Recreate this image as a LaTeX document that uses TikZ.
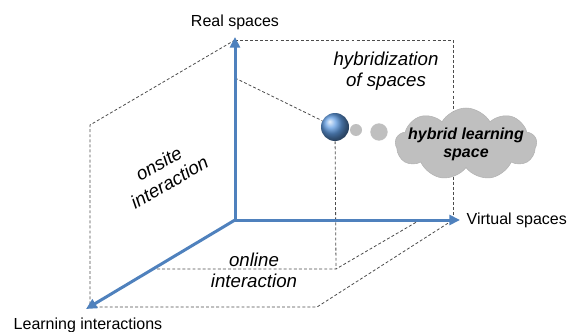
\documentclass[tikz,border=0pt]{standalone}
\usepackage{fontspec}
\setmainfont{Liberation Sans}
\usetikzlibrary{arrows.meta,shapes.symbols}
\definecolor{axisblue}{RGB}{79,129,189}
\definecolor{ballblue}{RGB}{96,156,226}
\definecolor{cloudgray}{RGB}{191,191,191}
\begin{document}
\begin{tikzpicture}[x=0.75pt,y=-0.75pt]
    \tikzstyle{axis}=[draw=axisblue,line width=2.25pt,-{Triangle[length=8pt,width=7.5pt]}]
    \tikzstyle{guide}=[draw=black!70,line width=0.6pt,dash pattern=on 2.2pt off 1.6pt]
    \tikzstyle{axislabel}=[font=\fontsize{12}{14}\selectfont]
    \tikzstyle{region}=[font=\fontsize{14}{16}\selectfont\itshape,align=center]
    \tikzstyle{dot}=[circle,fill=cloudgray,inner sep=0pt]
    \useasboundingbox (0,0) rectangle (568,332);
    \begin{scope}
        % axes
        \coordinate (o) at (235,220);
        \coordinate (real) at (235,37);
        \coordinate (virtual) at (460,220);
        \coordinate (learn) at (86,309);
        % box corners
        \coordinate (b1) at (235,40);
        \coordinate (b2) at (453,40);
        \coordinate (b3) at (453,220);
        \coordinate (b4) at (90,125);
        \coordinate (b5) at (90,307);
        \coordinate (b6) at (317,307);
        % projections of the point
        \coordinate (pr) at (235,78);
        \coordinate (pf) at (336,269);
        \coordinate (pl) at (152,269);
        \coordinate (pv) at (420,220);
        \node [circle,inner sep=0pt,minimum size=21,shading=ball,ball color=ballblue] (p) at (335,127) {};
        \node [dot,minimum size=9] (d1) at (356,130) {};
        \node [dot,minimum size=13] (d2) at (379,132) {};
        % dashed box
        \path[guide] (b1) -- (b2) -- (b3);
        \path[guide] (b1) -- (b4) -- (b5) -- (b6) -- (b3);
        \path[guide] (pr) -- (p);
        \path[guide] (p) -- (pf);
        \path[guide] (pl) -- (pf) -- (pv);
        \node [cloud,cloud puffs=9,cloud puff arc=120,draw=black!30,fill=cloudgray,inner sep=0pt,minimum width=106pt,minimum height=54pt] (hls) at (466,144) {};
        \node [align=center,font=\fontsize{12}{13.5}\selectfont\bfseries\itshape] (hlt) at (hls) {hybrid learning\\space};
        \path[axis] (o) -- (real);
        \path[axis] (o) -- (virtual);
        \path[axis] (o) -- (learn);
        \node [axislabel] (rl) at (235,22) {Real spaces};
        \node [axislabel,anchor=west] (vl) at (462,220) {Virtual spaces};
        \node [axislabel] (ll) at (88,325) {Learning interactions};
        \node [region] (hyb) at (386,71) {hybridization\\of spaces};
        \node [region] (onl) at (254,270) {online\\interaction};
        \node [region,rotate=30] (ons) at (164,173) {onsite\\interaction};
    \end{scope}
\end{tikzpicture}
\end{document}
